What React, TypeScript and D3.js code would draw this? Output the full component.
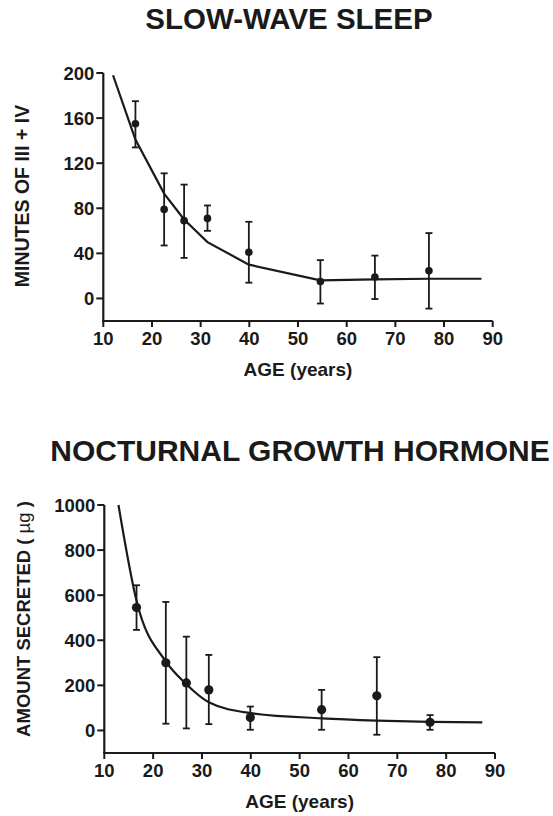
import React from "react";
import * as d3 from "d3";

// ---- Slow-wave sleep panel ----
const swsAge = [16.6, 22.5, 26.6, 31.4, 39.9, 54.6, 65.8, 76.9];
const swsMean = [155, 79, 69, 71, 41, 15, 19, 24.5];
const swsHi = [175, 111, 101, 82.5, 68, 34, 38, 58];
const swsLo = [134, 47, 36, 60, 14, -4.5, -0.5, -9];
const swsFitAge = [12, 16.6, 22.5, 26.6, 31.4, 39.9, 54.6, 65.8, 76.9, 87.7];
const swsFitVal = [198, 141, 93, 70, 50, 30, 16, 17, 17.5, 17.5];
const swsYTicks = [0, 40, 80, 120, 160, 200];

// ---- Nocturnal growth hormone panel ----
const ghAge = [16.6, 22.6, 26.8, 31.4, 39.9, 54.5, 65.8, 76.7];
const ghMean = [545, 300, 211, 180, 57, 92, 154, 36];
const ghHi = [644, 570, 416, 335, 106, 180, 325, 68];
const ghLo = [446, 30, 9, 28, 3, 3, -19, 3];
const ghFitAge = [12.9, 16.6, 22.6, 26.8, 31.4, 39.9, 54.5, 65.8, 76.7, 87.4];
const ghFitVal = [1000, 575, 306, 205, 125, 77, 54, 44, 38, 36];
const ghYTicks = [0, 200, 400, 600, 800, 1000];

const xTicks = [10, 20, 30, 40, 50, 60, 70, 80, 90];

const FONT = "'Liberation Sans', Arial, Helvetica, sans-serif";
const INK = "#1a1a1a";

type PanelProps = {
  title: string;
  titleX: number;
  titleY: number;
  titleSize: number;
  yLabel: React.ReactNode;
  yLabelX: number;
  yLabelY: number;
  yLabelSize: number;
  ages: number[];
  mean: number[];
  hi: number[];
  lo: number[];
  fitAge: number[];
  fitVal: number[];
  curve: d3.CurveFactory;
  yTicks: number[];
  yDomain: [number, number];
  xRange: [number, number];
  yRange: [number, number];
  dotR: number;
};

function Panel(p: PanelProps) {
  const x = d3.scaleLinear().domain([10, 90]).range(p.xRange);
  const y = d3.scaleLinear().domain(p.yDomain).range(p.yRange);
  const fit = d3
    .line<number>()
    .x((_, i) => x(p.fitAge[i]))
    .y((v) => y(v))
    .curve(p.curve)(p.fitVal) as string;
  const axisY = p.yRange[0];
  const axisX = p.xRange[0];
  const yTop = y(p.yTicks[p.yTicks.length - 1]);
  const cap = 3.5;
  return (
    <g>
      <text
        x={p.titleX}
        y={p.titleY}
        textAnchor="middle"
        fontFamily={FONT}
        fontWeight="bold"
        fontSize={p.titleSize}
        fill={INK}
      >
        {p.title}
      </text>
      {/* axes */}
      <line x1={axisX} x2={axisX} y1={yTop} y2={axisY} stroke={INK} strokeWidth={2.2} />
      <line x1={axisX - 1} x2={p.xRange[1]} y1={axisY} y2={axisY} stroke={INK} strokeWidth={2.2} />
      {p.yTicks.map((t) => (
        <g key={"y" + t}>
          <line x1={axisX - 7} x2={axisX} y1={y(t)} y2={y(t)} stroke={INK} strokeWidth={2} />
          <text
            x={axisX - 9}
            y={y(t) + 6.5}
            textAnchor="end"
            fontFamily={FONT}
            fontWeight="bold"
            fontSize={18.5}
            fill={INK}
          >
            {t}
          </text>
        </g>
      ))}
      {xTicks.map((t) => (
        <g key={"x" + t}>
          <line x1={x(t)} x2={x(t)} y1={axisY} y2={axisY + 6} stroke={INK} strokeWidth={2} />
          <text
            x={x(t)}
            y={axisY + 23.5}
            textAnchor="middle"
            fontFamily={FONT}
            fontWeight="bold"
            fontSize={18.5}
            fill={INK}
          >
            {t}
          </text>
        </g>
      ))}
      <text
        x={(p.xRange[0] + p.xRange[1]) / 2}
        y={axisY + 54.5}
        textAnchor="middle"
        fontFamily={FONT}
        fontWeight="bold"
        fontSize={19}
        fill={INK}
      >
        AGE (years)
      </text>
      <text
        transform={`translate(${p.yLabelX},${p.yLabelY}) rotate(-90)`}
        textAnchor="middle"
        fontFamily={FONT}
        fontWeight="bold"
        fontSize={p.yLabelSize}
        fill={INK}
      >
        {p.yLabel}
      </text>
      {/* fitted curve */}
      <path d={fit} fill="none" stroke={INK} strokeWidth={2.2} />
      {/* error bars and points */}
      {p.ages.map((a, i) => (
        <g key={"p" + i}>
          <line x1={x(a)} x2={x(a)} y1={y(p.hi[i])} y2={y(p.lo[i])} stroke={INK} strokeWidth={1.8} />
          <line x1={x(a) - cap} x2={x(a) + cap} y1={y(p.hi[i])} y2={y(p.hi[i])} stroke={INK} strokeWidth={1.8} />
          <line x1={x(a) - cap} x2={x(a) + cap} y1={y(p.lo[i])} y2={y(p.lo[i])} stroke={INK} strokeWidth={1.8} />
          <circle cx={x(a)} cy={y(p.mean[i])} r={p.dotR} fill={INK} />
        </g>
      ))}
    </g>
  );
}

export default function App() {
  return (
    <svg
      width={553}
      height={816}
      style={{ position: "absolute", left: 0, top: 0, background: "#fff" }}
    >
      <rect width={553} height={816} fill="#fff" />
      <Panel
        title="SLOW-WAVE SLEEP"
        titleX={289}
        titleY={29}
        titleSize={29.5}
        yLabel="MINUTES OF III + IV"
        yLabelX={28.5}
        yLabelY={196}
        yLabelSize={19.5}
        ages={swsAge}
        mean={swsMean}
        hi={swsHi}
        lo={swsLo}
        fitAge={swsFitAge}
        fitVal={swsFitVal}
        curve={d3.curveLinear}
        yTicks={swsYTicks}
        yDomain={[-20, 200]}
        xRange={[103.3, 492.7]}
        yRange={[321, 73]}
        dotR={3.8}
      />
      <Panel
        title="NOCTURNAL GROWTH HORMONE"
        titleX={300}
        titleY={461}
        titleSize={30}
        yLabel={
          <>
            AMOUNT SECRETED (
            <tspan fontWeight="normal"> µg </tspan>)
          </>
        }
        yLabelX={30}
        yLabelY={619}
        yLabelSize={18.5}
        ages={ghAge}
        mean={ghMean}
        hi={ghHi}
        lo={ghLo}
        fitAge={ghFitAge}
        fitVal={ghFitVal}
        curve={d3.curveMonotoneX}
        yTicks={ghYTicks}
        yDomain={[-100, 1000]}
        xRange={[104.3, 495]}
        yRange={[753, 505]}
        dotR={4.6}
      />
    </svg>
  );
}
